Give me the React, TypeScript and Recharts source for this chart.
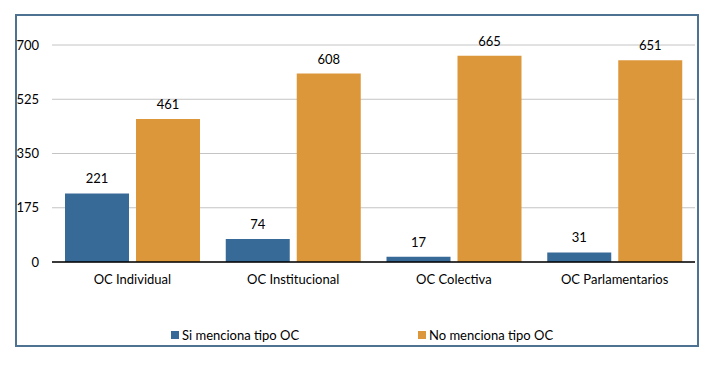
import React from "react";
import { BarChart, Bar, XAxis, YAxis, CartesianGrid, LabelList } from "recharts";

const categories = ["OC Individual", "OC Institucional", "OC Colectiva", "OC Parlamentarios"];
const siMenciona = [221, 74, 17, 31];
const noMenciona = [461, 608, 665, 651];
const yTicks = [0, 175, 350, 525, 700];

const series = [
  { key: "si", name: "Si menciona tipo OC", color: "#386A98", values: siMenciona },
  { key: "no", name: "No menciona tipo OC", color: "#DC973B", values: noMenciona },
];

const data = categories.map((c, i) => {
  const row: Record<string, string | number> = { name: c };
  series.forEach((s) => {
    row[s.key] = s.values[i];
  });
  return row;
});

const FONT = "Lato, 'Open Sans', sans-serif";

export default function App() {
  return (
    <div style={{ position: "absolute", left: 0, top: 0, width: 708, height: 366, background: "#fff", fontFamily: FONT }}>
      <div
        style={{
          position: "absolute",
          left: 15,
          top: 14,
          width: 680,
          height: 329,
          border: "2px solid #4E7291",
        }}
      />
      <div style={{ position: "absolute", left: 0, top: 0 }}>
        <BarChart
          width={708}
          height={366}
          data={data}
          margin={{ top: 45, right: 13, bottom: 74, left: 0 }}
          barCategoryGap={13}
          barGap={7}
        >
          <CartesianGrid vertical={false} stroke="#C4C4C4" strokeWidth={1} />
          <YAxis
            width={52}
            domain={[0, 700]}
            ticks={yTicks}
            axisLine={false}
            tickLine={false}
            tickSize={0}
            tickMargin={13}
            interval={0}
            tick={{ fill: "#000", fontSize: 13, fontFamily: FONT }}
          />
          <XAxis
            dataKey="name"
            height={30}
            axisLine={{ stroke: "#000", strokeWidth: 1.5 }}
            tickLine={false}
            tickSize={0}
            tickMargin={13}
            interval={0}
            tick={{ fill: "#000", fontSize: 13, fontFamily: FONT }}
          />
          {series.map((s) => (
            <Bar key={s.key} dataKey={s.key} name={s.name} fill={s.color} isAnimationActive={false}>
              <LabelList
                dataKey={s.key}
                position="top"
                offset={10}
                style={{ fill: "#000", fontSize: 13, fontFamily: FONT }}
              />
            </Bar>
          ))}
        </BarChart>
      </div>
      {series.map((s, i) => (
        <div
          key={s.key}
          style={{
            position: "absolute",
            left: i === 0 ? 171 : 418,
            top: 327,
            display: "flex",
            alignItems: "center",
            fontSize: 13,
            color: "#000",
            whiteSpace: "nowrap",
          }}
        >
          <span style={{ display: "inline-block", width: 8, height: 8, background: s.color, marginRight: 3 }} />
          <span>{s.name}</span>
        </div>
      ))}
    </div>
  );
}
